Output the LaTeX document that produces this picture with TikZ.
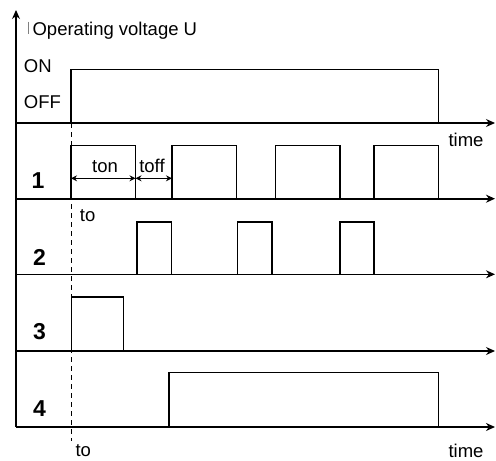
\documentclass[tikz,border=0pt]{standalone}
\usepackage{fontspec}
\setmainfont{Liberation Sans}
\usetikzlibrary{arrows.meta}

\begin{document}
\begin{tikzpicture}[x=1pt,y=-1pt,>={Stealth[length=9pt,width=8pt]},line width=1.2pt]
  \tikzstyle{every node}=[font=\fontsize{18.5}{20}\selectfont,inner sep=0pt]
  \tikzstyle{row}=[anchor=base,font=\fontsize{23}{25}\selectfont\bfseries]
  \tikzstyle{pulse}=[line width=1.3pt]
  \tikzstyle{axis}=[->]
  \tikzstyle{span}=[{Stealth[length=6pt,width=6pt]}-{Stealth[length=6pt,width=6pt]},line width=1.1pt]

  \useasboundingbox (0,0) rectangle (496,461);

  % axes
  \coordinate (O) at (16,427);
  \coordinate (U) at (16,10);
  \coordinate (a0) at (16,123);   \coordinate (e0) at (495,123);
  \coordinate (a1) at (16,198.7); \coordinate (e1) at (495,198.7);
  \coordinate (a2) at (16,274.3); \coordinate (e2) at (495,274.3);
  \coordinate (a3) at (16,351);   \coordinate (e3) at (495,351);
  \coordinate (e4) at (495,427);
  \coordinate (t0) at (71,123);
  \coordinate (t1) at (71,441);

  \draw[axis] (O) -- (U);
  \draw[axis] (a0) -- (e0);
  \draw[axis,line width=1.7pt] (a1) -- (e1);
  \draw[axis] (a2) -- (e2);
  \draw[axis] (a3) -- (e3);
  \draw[axis,line width=1.7pt] (O) -- (e4);
  \draw[dash pattern=on 5pt off 4pt,line width=1pt] (t0) -- (t1);

  % labels
  \draw[line width=0.5pt,gray] (28.3,21.7) -- (28.3,34);
  \node[anchor=base west] (volt) at (32,35) {Operating voltage U};
  \node[anchor=base west] (on) at (23.3,72.7) {ON};
  \node[anchor=base west] (off) at (23.3,108.3) {OFF};
  \node[anchor=base] (time1) at (466,146) {time};
  \node[anchor=base] (time2) at (466,457) {time};
  \node[anchor=base west] (to1) at (79.3,221.7) {to};
  \node[anchor=base west] (to2) at (75,456) {to};
  \node[row] (r1) at (38,188.3) {1};
  \node[row] (r2) at (39.5,265.7) {2};
  \node[row] (r3) at (39.5,339) {3};
  \node[row] (r4) at (39.5,416) {4};

  % signals
  \draw[pulse] (71,123) rectangle (438.7,69.7);
  \draw[line width=1.7pt] (71,123) -- (438.7,123);
  \draw[pulse] (71,198.7) rectangle (135.5,145.3);
  \draw[pulse] (172,198.7) rectangle (236.5,145.3);
  \draw[pulse] (275.7,198.7) rectangle (340,145.3);
  \draw[pulse] (374,198.7) rectangle (438.7,145.3);
  \draw[pulse] (137,274.3) rectangle (171.3,222);
  \draw[pulse] (237.7,274.3) rectangle (272,222);
  \draw[pulse] (340,274.3) rectangle (374,222);
  \draw[pulse] (71.7,351) rectangle (123.7,297);
  \draw[line width=1.7pt] (71.7,351) -- (123.7,351);
  \draw[pulse] (169,427) rectangle (438.7,372.3);

  % ton / toff
  \coordinate (s0) at (71,178.3);
  \coordinate (s1) at (135.5,178.3);
  \coordinate (s2) at (172,178.3);
  \draw[span] (s0) -- (s1);
  \draw[span] (s1) -- (s2);
  \node[anchor=base] (ton) at (105,172.7) {ton};
  \node[anchor=base] (toff) at (152,172.7) {toff};
\end{tikzpicture}
\end{document}
